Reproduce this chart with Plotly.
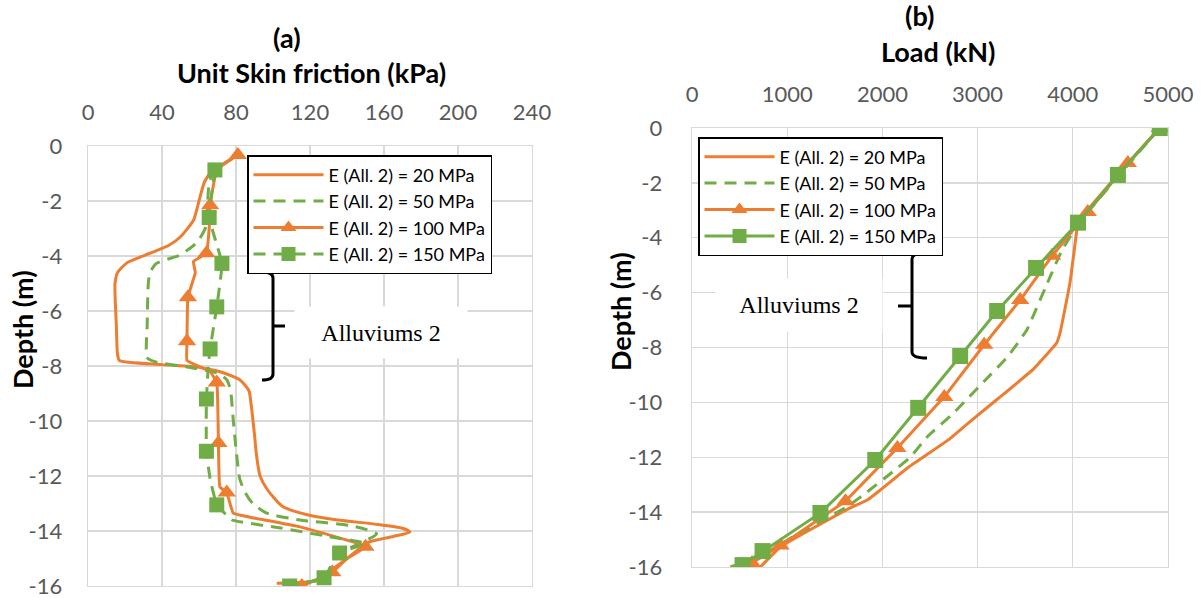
import plotly.graph_objects as go

# ---------------- data : (a) unit skin friction ----------------
L20_depth = [-0.7, -1.3, -2.0, -2.7, -3.3, -3.6, -3.9, -4.25, -4.6, -5.0, -6.5, -7.6, -7.8, -7.95, -8.05, -8.2, -8.5,
             -8.9, -9.3, -10.5, -11.2, -12.0, -12.5, -13.1, -13.4, -13.6, -13.75, -13.9, -14.04, -14.2, -14.4,
             -14.57, -15.0, -15.4, -15.8, -15.9]
L20_fric = [69, 63, 60, 57, 50, 44, 33.5, 21, 16, 14.6, 15.3, 16, 17, 40, 60, 71, 82,
            87, 88, 90, 91, 93, 97, 105, 118, 135, 155, 170, 174, 165, 152,
            148, 140, 132, 124, 102]

L50_depth = [-0.45, -0.9, -1.35, -2.3, -2.9, -3.5, -3.8, -3.96, -4.27, -4.6, -5.0, -6.5, -7.7, -7.86, -8.03, -8.26,
             -8.5, -8.87, -9.96, -11.0, -12.1, -12.6, -13.0, -13.35, -13.6, -13.8, -14.1, -14.45, -14.8, -15.3,
             -15.7, -15.96]
L50_fric = [78, 68, 65.5, 64.5, 64, 59, 53.5, 50, 37, 33.5, 32.6, 32, 32, 37, 53, 70,
            75, 77, 78.5, 80, 82, 85, 89, 96.6, 114.6, 141.6, 156, 147, 136, 131,
            128, 109]

L100_depth = [-0.33, -0.87, -2.15, -3.0, -3.9, -4.2, -4.6, -5.5, -7.1, -7.8, -8.03, -8.2, -8.6, -10.8, -12.4,
              -12.6, -13.35, -13.5, -13.85, -14.57, -15.0, -15.5, -16.0]
L100_fric = [81, 69.7, 66, 65.5, 64, 57, 58, 54, 53.5, 53.5, 60.5, 66, 69.6, 70.5, 71.3,
             75, 78.5, 87.6, 114.6, 150, 140, 132, 115.6]
L100_marked = [1, 0, 1, 0, 1, 0, 0, 1, 1, 0, 0, 0, 1, 1, 0,
               1, 0, 0, 0, 1, 0, 1, 1]

L150_depth = [-0.87, -2.6, -4.27, -5.85, -7.38, -8.03, -9.2, -11.1, -12.1, -13.05, -13.6, -13.9, -14.2, -14.45,
              -14.8, -15.7, -16.0]
L150_fric = [68.6, 65.5, 72.4, 69.6, 66, 65, 64, 64, 66, 69.6, 78, 105, 130, 150,
             136, 127.6, 109]
L150_marked = [1, 1, 1, 1, 1, 0, 1, 1, 0, 1, 0, 0, 0, 0,
               1, 1, 1]

# ---------------- data : (b) load ----------------
R20_depth = [0, -1.71, -3.43, -4.6, -5.65, -7.47, -7.84, -8.8, -9.85, -10.6, -11.35, -12.4, -13.2, -13.56, -13.9,
             -15.27, -16.0]
R20_load = [4913, 4470, 4060, 4010, 3970, 3866, 3830, 3583, 3220, 2955, 2700, 2260, 1977, 1842, 1631,
            928, 718]

R50_depth = [0, -1.71, -3.43, -4.45, -5.7, -7.36, -8.33, -9.2, -10.4, -11.26, -12.0, -12.6, -13.26, -13.8, -14.8,
             -15.6, -16.0]
R50_load = [4913, 4490, 4070, 3886, 3727, 3517, 3318, 3077, 2744, 2470, 2292, 2083, 1842, 1631, 1107,
            718, 403]

R100_depth = [0, -1.28, -3.06, -4.66, -6.27, -7.9, -9.8, -11.66, -13.6, -15.22, -15.85]
R100_load = [4913, 4578, 4157, 3783, 3447, 3069, 2650, 2157, 1612, 930, 630]

R150_depth = [0, -1.71, -3.45, -5.1, -6.67, -8.31, -10.2, -12.1, -14.03, -15.42, -15.93]
R150_load = [4913, 4474, 4055, 3614, 3205, 2817, 2376, 1925, 1349, 741, 531]

SERIES_NAMES = ["E (All. 2) = 20 MPa", "E (All. 2) = 50 MPa", "E (All. 2) = 100 MPa", "E (All. 2) = 150 MPa"]

FRIC_TICKS = [0, 40, 80, 120, 160, 200, 240]
LOAD_TICKS = [0, 1000, 2000, 3000, 4000, 5000]
DEPTH_TICKS = [0, -2, -4, -6, -8, -10, -12, -14, -16]
DEPTH_TICK_LABELS = ["0", "-2", "-4", "-6", "-8", "-10", "-12", "-14", "-16"]

ALLUVIUM_LABEL = "Alluviums 2"

# ---------------- style ----------------
W, H = 1202, 598
ORANGE = "#ED7D31"
GREEN = "#70AD47"
GRID = "#D9D9D9"
DASH = "12px,8px"
LW = 3
TICKFONT = dict(family="Lato", size=22, color="#595959")
TITLEFONT = dict(family="Lato", size=27, color="black")
LEGFONT = dict(family="Lato", size=18, color="black")


def px(x):
    return x / W


def py(y):
    return 1 - y / H


fig = go.Figure()


def add_series(x, y, color, dash, symbol, marked, xa, ya, smooth, msize):
    sizes = None
    if symbol is not None:
        sizes = [msize if m else 0 for m in marked]
    fig.add_trace(go.Scatter(
        x=x, y=y, xaxis=xa, yaxis=ya, showlegend=False,
        mode="lines+markers" if symbol else "lines",
        line=dict(color=color, width=LW, dash=dash,
                  shape="spline" if smooth else "linear", smoothing=smooth if smooth else None),
        marker=dict(symbol=symbol, size=sizes, color=color, opacity=1, line=dict(width=0)) if symbol else None,
        hoverinfo="skip"))


# (a)
add_series(L20_fric, L20_depth, ORANGE, "solid", None, None, "x", "y", 0.6, 0)
add_series(L50_fric, L50_depth, GREEN, DASH, None, None, "x", "y", 0.6, 0)
add_series(L100_fric, L100_depth, ORANGE, "solid", "triangle-up", L100_marked, "x", "y", 0.3, 16)
add_series(L150_fric, L150_depth, GREEN, DASH, "square", L150_marked, "x", "y", 0.3, 15)

# (b)
add_series(R20_load, R20_depth, ORANGE, "solid", None, None, "x2", "y2", 0.3, 0)
add_series(R50_load, R50_depth, GREEN, DASH, None, None, "x2", "y2", 0.3, 0)
add_series(R100_load, R100_depth, ORANGE, "solid", "triangle-up", [1] * len(R100_load), "x2", "y2", 0, 16)
add_series(R150_load, R150_depth, GREEN, "solid", "square", [1] * len(R150_load), "x2", "y2", 0, 16)

# legend entries
leg_a = [(ORANGE, "solid", None), (GREEN, DASH, None), (ORANGE, "solid", "triangle-up"), (GREEN, DASH, "square")]
leg_b = [(ORANGE, "solid", None), (GREEN, DASH, None), (ORANGE, "solid", "triangle-up"), (GREEN, "solid", "square")]
for legname, xa, ya, spec in (("legend", "x", "y", leg_a), ("legend2", "x2", "y2", leg_b)):
    for name, (c, d, s) in zip(SERIES_NAMES, spec):
        fig.add_trace(go.Scatter(
            x=[None], y=[None], xaxis=xa, yaxis=ya, name=name, legend=legname,
            mode="lines+markers" if s else "lines",
            line=dict(color=c, width=LW, dash=d),
            marker=dict(symbol=s, size=14, color=c, opacity=1) if s else None))

axis_common = dict(showgrid=True, gridcolor=GRID, gridwidth=1.3, zeroline=False, showline=True,
                   linecolor=GRID, linewidth=1.3, mirror=True, ticks="", tickfont=TICKFONT,
                   automargin=False, ticklabeloverflow="allow")

fig.update_layout(
    width=W, height=H, margin=dict(l=0, r=0, t=0, b=0, pad=0, autoexpand=False),
    paper_bgcolor="white", plot_bgcolor="white",
    xaxis=dict(domain=[px(88), px(532)], anchor="y", side="top", range=[0, 240],
               tickvals=FRIC_TICKS, ticklabelstandoff=16, **axis_common),
    yaxis=dict(domain=[py(586), py(146)], anchor="x", range=[-16, 0], tickvals=DEPTH_TICKS,
               ticktext=DEPTH_TICK_LABELS, ticklabelstandoff=20, **axis_common),
    xaxis2=dict(domain=[px(692), px(1168)], anchor="y2", side="top", range=[0, 5000],
                tickvals=LOAD_TICKS, ticklabelstandoff=16, **axis_common),
    yaxis2=dict(domain=[py(567), py(128)], anchor="x2", range=[-16, 0], tickvals=DEPTH_TICKS,
                ticktext=DEPTH_TICK_LABELS, ticklabelstandoff=24, **axis_common),
    legend=dict(x=px(247), y=py(155), xanchor="left", yanchor="top", bgcolor="white",
                bordercolor="black", borderwidth=1.5, font=LEGFONT, tracegroupgap=0, itemwidth=70),
    legend2=dict(x=px(698), y=py(137), xanchor="left", yanchor="top", bgcolor="white",
                 bordercolor="black", borderwidth=1.5, font=LEGFONT, tracegroupgap=0, itemwidth=70),
)

# titles
ann = [
    ("<b>(a)</b>", 287, 38, 0), ("<b>Unit Skin friction (kPa)</b>", 311, 72, 0),
    ("<b>(b)</b>", 919, 16, 0), ("<b>Load (kN)</b>", 938, 52, 0),
    ("<b>Depth (m)</b>", 22, 330, -90), ("<b>Depth (m)</b>", 620, 312, -90),
]
for text, x, y, rot in ann:
    fig.add_annotation(text=text, x=px(x), y=py(y), xref="paper", yref="paper", showarrow=False,
                       xanchor="center", yanchor="middle", textangle=rot, font=TITLEFONT)

# Alluviums 2 labels (white boxes over the grid)
fig.add_annotation(text=ALLUVIUM_LABEL, x=px(381), y=py(332), xref="paper", yref="paper", showarrow=False,
                   xanchor="center", yanchor="middle", width=170, height=49, bgcolor="white",
                   font=dict(family="Liberation Serif", size=24, color="black"))
fig.add_annotation(text=ALLUVIUM_LABEL, x=px(799), y=py(305), xref="paper", yref="paper", showarrow=False,
                   xanchor="center", yanchor="middle", width=164, height=50, bgcolor="white",
                   font=dict(family="Liberation Serif", size=24, color="black"))


# braces (paper coordinates)
def brace(x_hook, x_bar, x_tip, y_top, y_mid, y_bot):
    d = (f"M {px(x_hook)},{py(y_top)} Q {px(x_bar)},{py(y_top)} {px(x_bar)},{py(y_top + 6)} "
         f"L {px(x_bar)},{py(y_bot - 6)} Q {px(x_bar)},{py(y_bot)} {px(x_hook)},{py(y_bot)} "
         f"M {px(x_bar)},{py(y_mid)} L {px(x_tip)},{py(y_mid)}")
    fig.add_shape(type="path", path=d, xref="paper", yref="paper", line=dict(color="black", width=3))


brace(262, 273, 285, 272, 326, 380)
brace(927, 912, 898, 253, 306, 358)

# remove the browser's default 8px page margin so the figure fills the window exactly
fig.write_html("out.html", config={"displayModeBar": False, "staticPlot": True},
               post_script="document.body.style.margin='0px';")
